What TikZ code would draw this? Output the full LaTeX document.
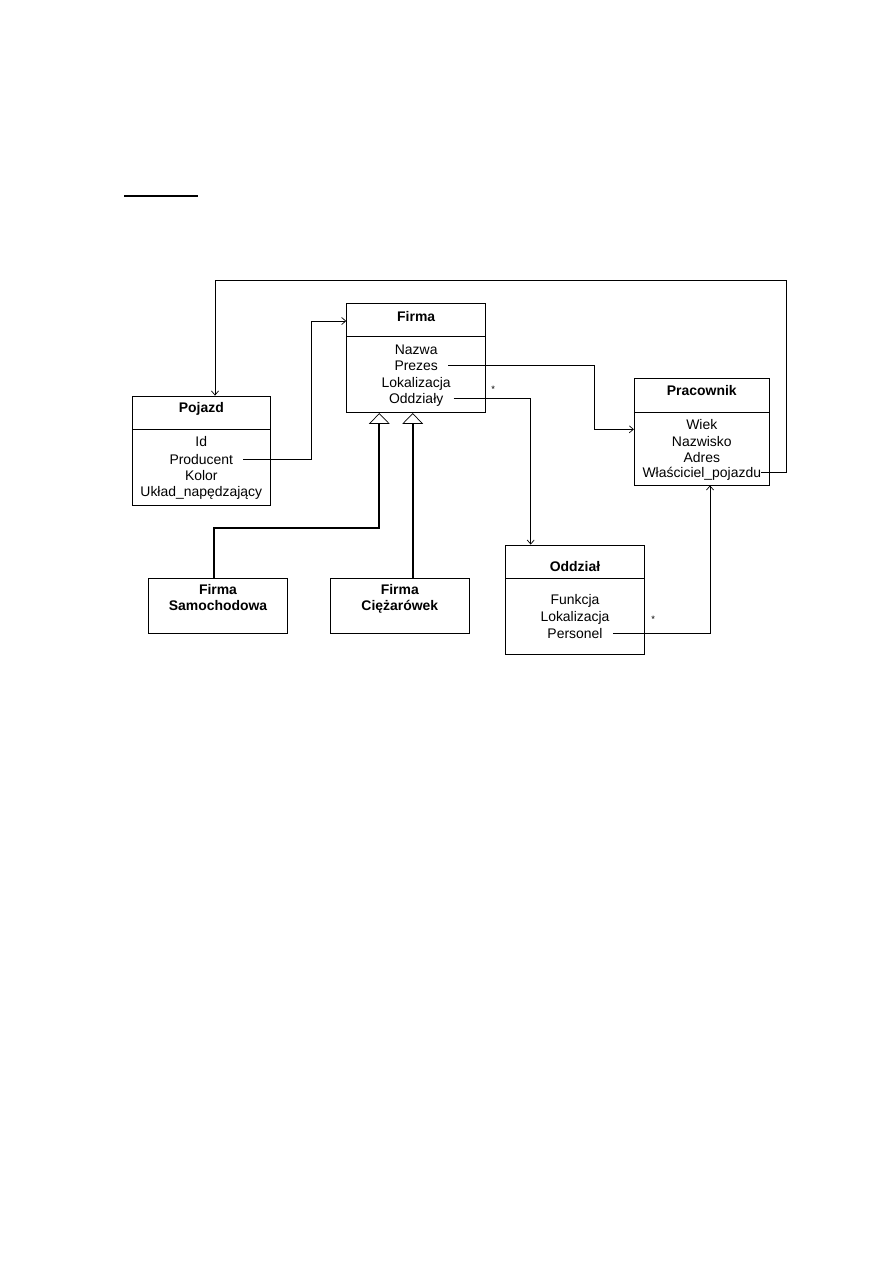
\documentclass[tikz,border=0pt]{standalone}
\usepackage{fontspec}
\setmainfont{Liberation Sans}
\usetikzlibrary{arrows.meta}
\begin{document}
\begin{tikzpicture}[x=0.03cm,y=-0.03cm,font=\fontsize{11.9}{13.9}\selectfont,
 >={Straight Barb[length=3.5pt,width=6pt]},
 cls/.style={draw,line width=0.7pt},
 ttl/.style={font=\fontsize{11.9}{13.9}\selectfont\bfseries,inner sep=0pt,text height=8.6pt,text depth=0pt},
 attr/.style={inner ysep=0pt,inner xsep=0.3cm,text height=8.6pt,text depth=0pt},
 assoc/.style={line width=0.6pt,->},
 gen/.style={line width=1.6pt,-{Triangle[open,length=0.32cm,width=0.62cm,line width=0.6pt]}},
 star/.style={font=\footnotesize,inner sep=0pt}]
\useasboundingbox (0,0) rectangle (893,1263);
\draw[line width=1.4pt] (124,196) -- (198,196);
\node[cls,minimum width=4.17cm,minimum height=3.28cm] (firma) at (416.2,358) {};
\draw[line width=0.6pt] (firma.west |- 0,336) -- (firma.east |- 0,336);
\node[ttl] (firmat) at (416.2,316) {Firma};
\node[attr] (nazwa) at (416.2,349.3) {Nazwa};
\node[attr] (prezes) at (416.2,365.7) {Prezes};
\node[attr] (lokf) at (416.2,382.3) {Lokalizacja};
\node[attr] (oddzialy) at (416.2,398.7) {Oddziały};
\node[cls,minimum width=4.12cm,minimum height=3.27cm] (pojazd) at (201.3,450.5) {};
\draw[line width=0.6pt] (pojazd.west |- 0,429) -- (pojazd.east |- 0,429);
\node[ttl] (pojazdt) at (201.3,407.3) {Pojazd};
\node[attr] (id) at (201.3,441.7) {Id};
\node[attr] (producent) at (201.3,459) {Producent};
\node[attr] (kolor) at (201.3,475.7) {Kolor};
\node[attr] (uklad) at (201.3,491.3) {Układ\_napędzający};
\node[cls,minimum width=4.05cm,minimum height=3.19cm] (pracownik) at (701.8,431.8) {};
\draw[line width=0.6pt] (pracownik.west |- 0,412.7) -- (pracownik.east |- 0,412.7);
\node[ttl] (pracownikt) at (701.8,390) {Pracownik};
\node[attr] (wiek) at (701.8,424) {Wiek};
\node[attr] (nazwisko) at (701.8,441) {Nazwisko};
\node[attr] (adres) at (701.8,457.3) {Adres};
\node[attr,inner xsep=0pt] (wlasciciel) at (701.8,472.7) {Właściciel\_pojazdu};
\node[cls,minimum width=4.16cm,minimum height=3.27cm] (oddzial) at (575,599.5) {};
\draw[line width=0.6pt] (oddzial.west |- 0,578.3) -- (oddzial.east |- 0,578.3);
\node[ttl] (oddzialt) at (575,566.7) {Oddział};
\node[attr] (funkcja) at (575,599) {Funkcja};
\node[attr] (loko) at (575,616.3) {Lokalizacja};
\node[attr] (personel) at (575,633.3) {Personel};
\node[cls,minimum width=4.18cm,minimum height=1.65cm] (samoch) at (218,605.8) {};
\node[ttl] (samocht) at (218,589) {Firma};
\node[ttl] (samocht2) at (218,605.7) {Samochodowa};
\node[cls,minimum width=4.17cm,minimum height=1.65cm] (ciezar) at (399.8,605.8) {};
\node[ttl] (ciezart) at (399.8,589) {Firma};
\node[ttl] (ciezart2) at (399.8,605.7) {Ciężarówek};
\coordinate (b1) at (311.7,321);
\coordinate (b2) at (594.3,429.3);
\coordinate (b3) at (530.7,396);
\coordinate (b4) at (710,627.7);
\coordinate (b5) at (786,280);
\coordinate (b6) at (215,280);
\coordinate (g0) at (214,528.3);
\coordinate (g1) at (379.3,528.3);
\coordinate (g2) at (412.7,528.3);
\draw[assoc] (producent.east) -| (b1) -- (b1 -| firma.west);
\draw[assoc] (prezes.east) -| (b2) -- (b2 -| pracownik.west);
\draw[assoc] (oddzialy.east) -| (b3 |- oddzial.north);
\draw[assoc] (personel.east) -| (b4 |- pracownik.south);
\draw[assoc] (wlasciciel.east) -| (b5) -- (b6) -- (b6 |- pojazd.north);
\node[star] (s1) at (493.3,389.5) {*};
\node[star] (s2) at (653.3,619.5) {*};
\draw[gen] (g0 |- samoch.north) -- (g0) -- (g1) -- (g1 |- firma.south);
\draw[gen] (g2 |- ciezar.north) -- (g2 |- firma.south);
\end{tikzpicture}
\end{document}
